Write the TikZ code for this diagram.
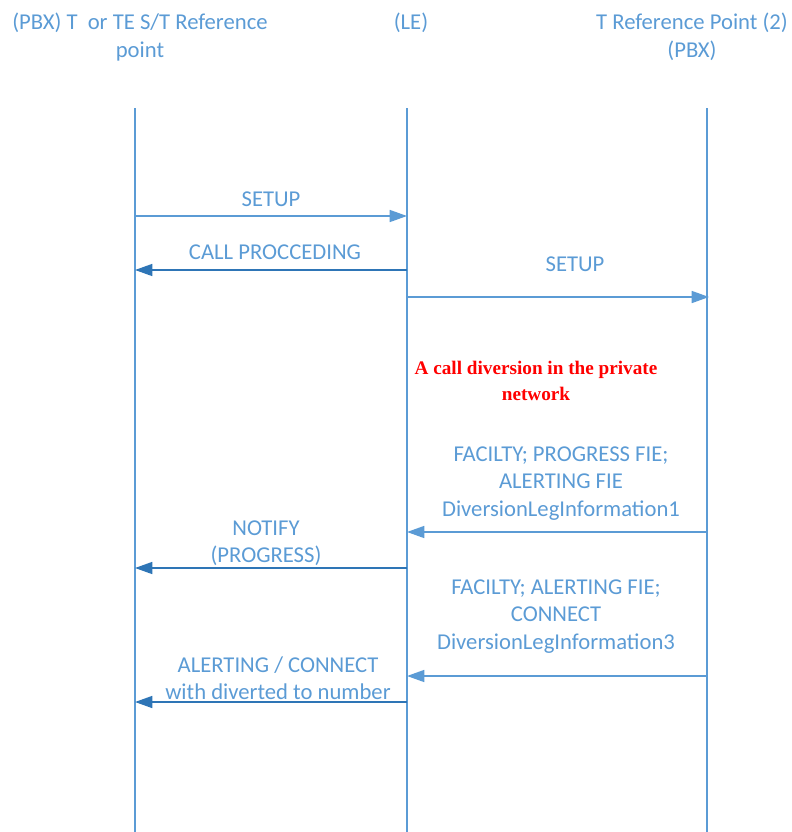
\documentclass[tikz,border=0pt]{standalone}
\usepackage{fontspec}
\setmainfont{Carlito}
\newfontfamily\redserif{Liberation Serif}
\usepackage{xcolor}
\usetikzlibrary{arrows.meta,positioning}
\definecolor{lineblue}{RGB}{91,155,213}
\definecolor{darkblue}{RGB}{46,117,182}
\definecolor{notered}{RGB}{255,0,0}
\tikzset{
  lifeline/.style={draw=lineblue,line width=1.2pt},
  msg/.style={draw=lineblue,line width=1.2pt,-{Triangle[length=13pt,width=9pt]}},
  msgback/.style={msg,draw=darkblue},
  lbl/.style={text=lineblue,font=\fontsize{17}{20.6}\selectfont,align=center,inner sep=0.75pt},
  rednote/.style={text=notered,font=\redserif\bfseries\fontsize{14.4}{19.5}\selectfont,align=center,inner sep=0.75pt}
}
\begin{document}
\begin{tikzpicture}[x=0.75pt,y=0.75pt,yscale=-1,xscale=1]
\useasboundingbox (0,0) rectangle (792,832);

% Heads
\node (hPbx) [lbl] at (140,37) {(PBX) T\ \ or TE S/T Reference\\point};
\node (hLe) [lbl] at (411,23) {(LE)};
\node (hTp) [lbl] at (692,37) {T Reference Point (2)\\(PBX)};

% Lifelines
\coordinate (pbxT) at (135,108);
\coordinate (pbxB) at (135,832);
\coordinate (leT) at (407,108);
\coordinate (leB) at (407,832);
\coordinate (tpT) at (707,108);
\coordinate (tpB) at (707,832);
\draw [lifeline] (pbxT) -- (pbxB);
\draw [lifeline] (leT) -- (leB);
\draw [lifeline] (tpT) -- (tpB);

% Message ends
\coordinate (pbx1) at (135,216);
\coordinate (le1) at (407,216);
\coordinate (pbx2) at (135,270);
\coordinate (le2) at (407,270);
\coordinate (le3) at (407,297);
\coordinate (tp3) at (709,297);
\coordinate (tp4) at (707,532);
\coordinate (le4) at (407,532);
\coordinate (le5) at (407,568);
\coordinate (pbx5) at (135,568);
\coordinate (tp6) at (707,676);
\coordinate (le6) at (407,676);
\coordinate (le7) at (407,702);
\coordinate (pbx7) at (135,702);

% Messages
\draw [msg] (pbx1) -- (le1);
\draw [msgback] (le2) -- (pbx2);
\draw [msg] (le3) -- (tp3);
\draw [msg] (tp4) -- (le4);
\draw [msgback] (le5) -- (pbx5);
\draw [msg] (tp6) -- (le6);
\draw [msgback] (le7) -- (pbx7);

% Text Node
\node (tSetup1) [lbl] at (271,199) {SETUP};
% Text Node
\node (tProc) [lbl] at (275,252) {CALL PROCCEDING};
% Text Node
\node (tSetup2) [lbl] at (575,264) {SETUP};
% Text Node
\node (tDiv) [rednote] at (536,381) {A call diversion in the private\\network};
% Text Node
\node (tFac1) [lbl] at (561,483.5) {FACILTY; PROGRESS FIE;\\ALERTING FIE\\DiversionLegInformation1};
% Text Node
\node (tNotify) [lbl] at (266,543) {NOTIFY\\(PROGRESS)};
% Text Node
\node (tFac3) [lbl] at (556,616.5) {FACILTY; ALERTING FIE;\\CONNECT\\DiversionLegInformation3};
% Text Node
\node (tAlert) [lbl] at (278,678) {ALERTING / CONNECT\\with diverted to number};

\end{tikzpicture}
\end{document}
